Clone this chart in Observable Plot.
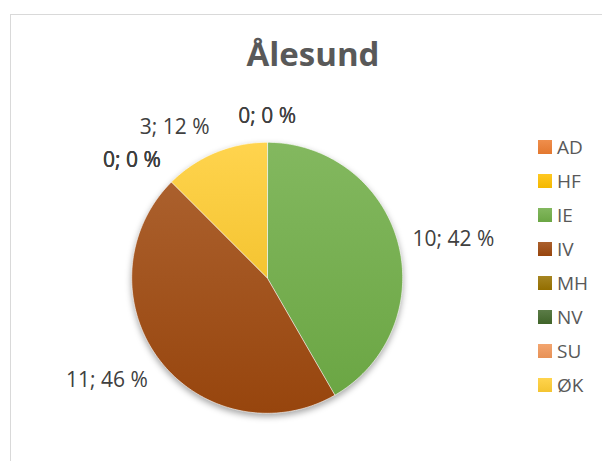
<!DOCTYPE html>
<html>
<head>
<meta charset="utf-8">
<script src="https://cdn.jsdelivr.net/npm/d3@7"></script>
<script src="https://cdn.jsdelivr.net/npm/@observablehq/plot@0.6"></script>
<style>
  body { margin: 0; background: #fff; }
  #wrap { position: relative; width: 602px; height: 461px; overflow: hidden; font-family: "Open Sans", sans-serif; }
  #frame { position: absolute; left: 10px; top: 14px; width: 700px; height: 600px; border: 1px solid #d9d9d9; box-sizing: border-box; }
  #title { position: absolute; left: 0; width: 626px; top: 37px; line-height: 33px; text-align: center; font-weight: 700; font-size: 33px; color: #595959; }
  #chart { position: absolute; left: 0; top: 0; }
  #legend { position: absolute; left: 538px; top: 129.5px; }
  #legend .row { height: 34.1px; display: flex; align-items: center; font-size: 19px; color: #595959; }
  #legend .sw { width: 14px; height: 14px; margin-right: 5px; display: inline-block; }
</style>
</head>
<body>
<div id="wrap">
  <div id="frame"></div>
  <div id="title">Ålesund</div>
  <div id="chart"></div>
  <div id="legend"></div>
</div>
<script>
// ---- data ----
const categories = ["AD", "HF", "IE", "IV", "MH", "NV", "SU", "ØK"];
const counts     = [0, 0, 10, 11, 0, 0, 0, 3];
const percents   = [0, 0, 42, 46, 0, 0, 0, 12];
const colors     = ["#ED7D31", "#FFC000", "#70AD47", "#9E480E", "#997300", "#43682B", "#F1975A", "#FFCD33"];

// ---- layout ----
const W = 602, H = 461;
const cx = 266.7, cy = 277.3, R = 135.5;
const labelGap = 15;     // px outside the rim
const labelHalfH = 11;   // half label height, px

const rows = categories.map((c, i) => ({key: c, count: counts[i], pct: percents[i], i}));
const arcs = d3.pie().sort(null).value(d => d.count)(rows);

const lighten = c => d3.interpolateRgb(c, "#ffffff")(0.13);
const darken = c => d3.color(c).darker(0.12).formatHex();

// slice outlines (unit circle, y downward)
const slicePts = [];
for (const a of arcs) {
  if (a.endAngle - a.startAngle <= 0) continue;
  const k = a.data.key;
  slicePts.push({key: k, x: 0, y: 0});
  const n = Math.max(2, Math.ceil((a.endAngle - a.startAngle) / (Math.PI / 180)));
  for (let j = 0; j <= n; j++) {
    const t = a.startAngle + (a.endAngle - a.startAngle) * j / n;
    slicePts.push({key: k, x: Math.sin(t), y: -Math.cos(t)});
  }
}

// label positions
const labels = arcs.map(a => {
  const m = (a.startAngle + a.endAngle) / 2;
  const s = Math.sin(m), c = Math.cos(m);
  const rr = (R + labelGap) / R;
  let x = rr * s, y = -rr * c;
  const anchor = s > 0.1 ? "start" : s < -0.1 ? "end" : "middle";
  if (c > 0.4) y -= labelHalfH / R;
  else if (c < -0.4) y += labelHalfH / R;
  return {x, y, anchor, text: `${a.data.count}; ${a.data.pct} %`};
});

const defs = () => {
  const d = d3.create("svg:defs");
  colors.forEach((c, i) => {
    const g = d.append("linearGradient").attr("id", "g" + i)
      .attr("x1", 0).attr("y1", 0).attr("x2", 0).attr("y2", 1);
    g.append("stop").attr("offset", "0%").attr("stop-color", lighten(c));
    g.append("stop").attr("offset", "100%").attr("stop-color", darken(c));
  });
  return d.node();
};

const textMark = anchor => Plot.text(labels.filter(l => l.anchor === anchor), {
  x: "x", y: "y", text: "text", textAnchor: anchor,
  fontSize: 21, fill: "#404040", fontFamily: "Open Sans"
});

const plot = Plot.plot({
  width: W, height: H, margin: 0,
  style: {background: "transparent", fontFamily: "Open Sans"},
  x: {domain: [-cx / R, (W - cx) / R], range: [0, W], axis: null},
  y: {domain: [-cy / R, (H - cy) / R], range: [0, H], axis: null},
  color: {domain: categories, range: categories.map((c, i) => `url(#g${i})`)},
  marks: [
    defs,
    Plot.line(slicePts, {x: "x", y: "y", z: "key", fill: "key", stroke: "#ffffff", strokeWidth: 0.6, curve: "linear-closed"}),
    textMark("start"), textMark("end"), textMark("middle")
  ]
});
const lineG = plot.querySelector('g[aria-label="line"]');
if (lineG) lineG.style.filter = "drop-shadow(0px 3px 3px rgba(0,0,0,0.35))";
document.getElementById("chart").appendChild(plot);

// legend
const lg = d3.select("#legend");
categories.forEach((c, i) => {
  const r = lg.append("div").attr("class", "row");
  r.append("span").attr("class", "sw").style("background", `linear-gradient(${lighten(colors[i])}, ${darken(colors[i])})`);
  r.append("span").text(c);
});
</script>
</body>
</html>
